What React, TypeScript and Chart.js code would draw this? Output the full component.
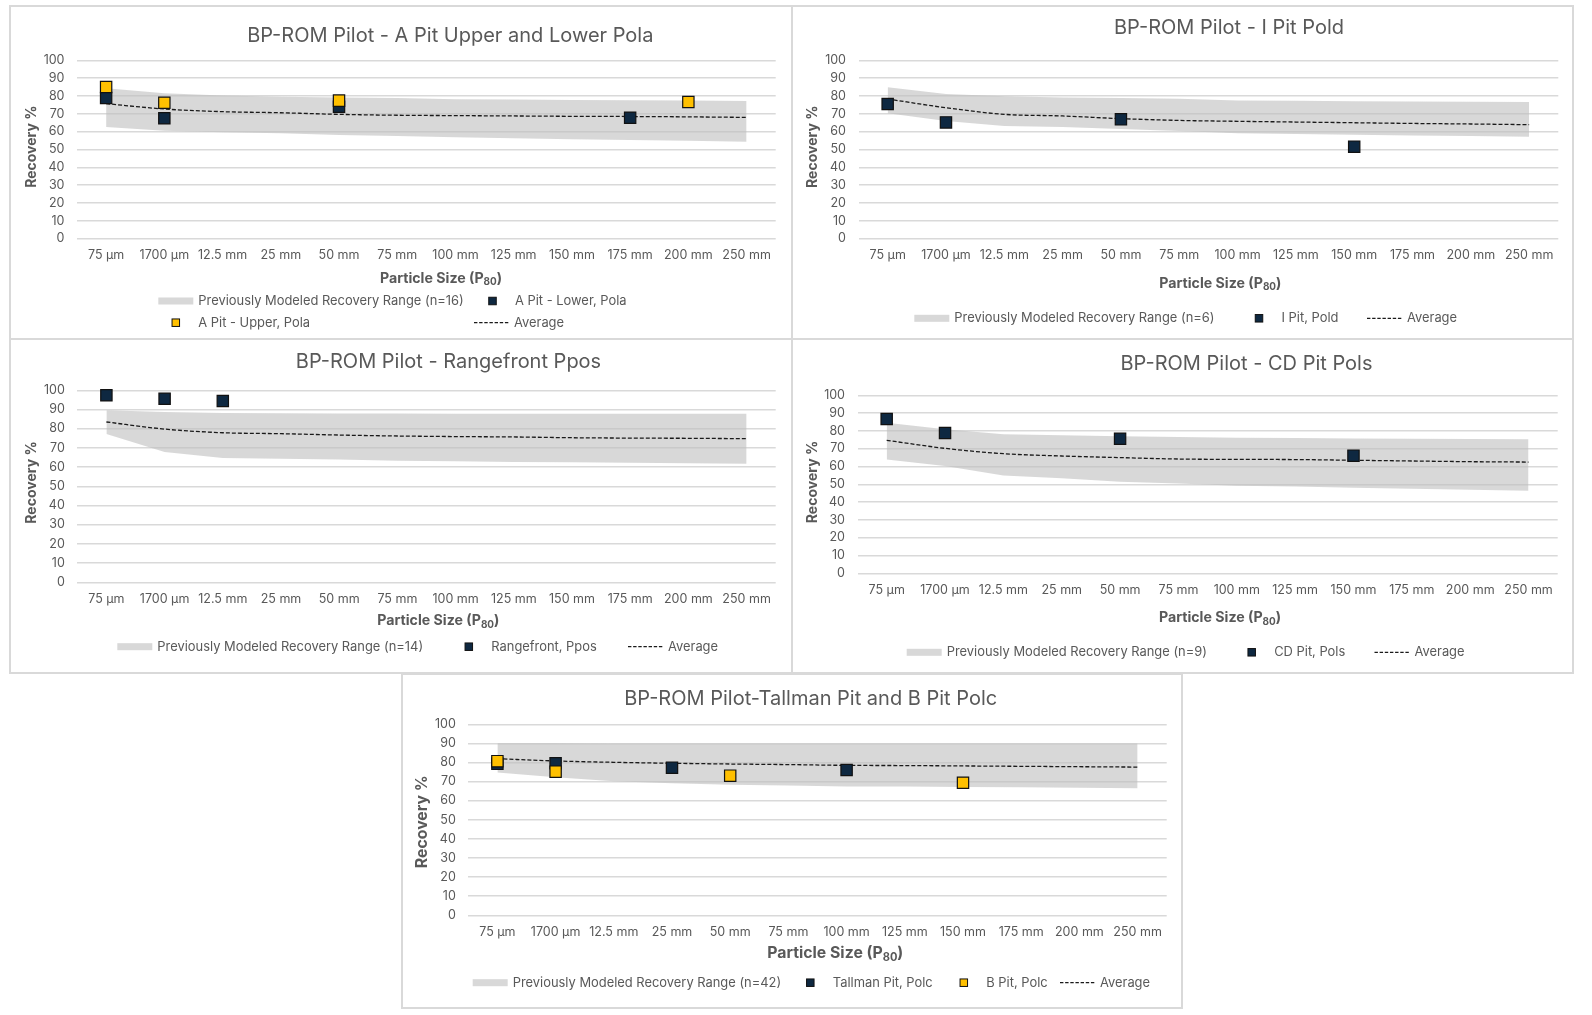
import React, { useEffect, useRef } from 'react';
import { Chart, registerables } from 'chart.js';

Chart.register(...registerables);

const FONT = 'Inter, "Noto Sans", sans-serif';
const TEXT = '#595959';
const NAVY = '#0E2841';
const GOLD = '#FFC000';
const BAND = 'rgba(190,190,190,0.6)';
const EDGE = '#111111';

const categories = ['75 µm', '1700 µm', '12.5 mm', '25 mm', '50 mm', '75 mm', '100 mm', '125 mm', '150 mm', '175 mm', '200 mm', '250 mm'];

// Chart 1 - A Pit Upper and Lower Pola
const rangeLow1 = [62.6, 60.5, 59.6, 59.1, 58.1, 57.6, 56.8, 56.3, 55.7, 55.3, 54.9, 54.4];
const rangeHigh1 = [84.3, 81.5, 80.2, 79.6, 79.2, 78.9, 78.1, 78.0, 77.8, 77.6, 77.4, 77.2];
const average1 = [75.7, 72.7, 71.2, 70.6, 69.7, 69.2, 69.0, 68.8, 68.6, 68.5, 68.3, 68.0];
const aPitLower1 = [78.9, 67.5, null, null, 74.0, null, null, null, null, 67.8, null, null];
const aPitUpper1 = [85.0, 76.2, null, null, 77.4, null, null, null, null, null, 76.6, null];

// Chart 2 - I Pit Pold
const rangeLow2 = [70.3, 66.0, 63.2, 62.6, 61.5, 60.4, 59.1, 58.7, 58.3, 57.9, 57.5, 57.2];
const rangeHigh2 = [84.9, 81.1, 79.8, 79.2, 78.9, 78.5, 77.5, 77.3, 77.1, 76.9, 76.8, 76.6];
const average2 = [78.3, 73.4, 69.7, 68.8, 67.3, 66.3, 65.8, 65.4, 65.0, 64.6, 64.3, 63.9];
const iPit2 = [75.5, 65.2, null, null, 66.9, null, null, null, 51.6, null, null, null];

// Chart 3 - Rangefront Ppos
const rangeLow3 = [77.2, 67.9, 64.7, 64.4, 63.9, 63.3, 63.0, 62.7, 62.5, 62.3, 62.0, 61.8];
const rangeHigh3 = [89.6, 88.7, 88.2, 88.0, 87.9, 87.9, 87.8, 87.8, 87.8, 87.8, 87.8, 87.8];
const average3 = [83.5, 79.8, 77.9, 77.4, 76.7, 76.2, 75.9, 75.7, 75.3, 75.1, 75.0, 74.8];
const rangefront3 = [97.4, 95.6, 94.4, null, null, null, null, null, null, null, null, null];

// Chart 4 - CD Pit Pols
const rangeLow4 = [64.0, 60.3, 55.0, 53.4, 51.5, 50.4, 49.2, 48.7, 48.1, 47.5, 47.0, 46.4];
const rangeHigh4 = [84.6, 80.9, 78.1, 77.5, 77.0, 76.6, 76.2, 76.0, 75.8, 75.6, 75.4, 75.3];
const average4 = [74.7, 70.2, 67.2, 65.9, 65.0, 64.2, 64.0, 63.9, 63.5, 63.1, 62.7, 62.5];
const cdPit4 = [86.7, 78.8, null, null, 75.6, null, null, null, 66.1, null, null, null];

// Chart 5 - Tallman Pit and B Pit Polc
const rangeLow5 = [74.7, 72.3, 70.2, 69.1, 68.4, 68.0, 67.5, 67.4, 67.2, 67.0, 66.8, 66.5];
const rangeHigh5 = [90.1, 90.1, 90.0, 90.0, 90.0, 90.0, 90.0, 90.0, 89.9, 89.9, 89.9, 89.9];
const average5 = [82.0, 80.8, 80.1, 79.6, 79.2, 78.9, 78.5, 78.4, 78.2, 78.0, 77.8, 77.6];
const tallman5 = [79.3, 79.6, null, 77.3, null, null, 76.1, null, null, null, null, null];
const bPit5 = [80.7, 75.2, null, null, 73.1, null, null, null, 69.4, null, null, null];

const bandLow = (data: (number | null)[]) => ({
  label: 'low', data, borderColor: 'transparent', backgroundColor: 'transparent', borderWidth: 0,
  pointRadius: 0, fill: false, order: 10, kind: 'none',
});
const bandHigh = (label: string, data: (number | null)[]) => ({
  label, data, borderColor: 'transparent', borderWidth: 0, pointRadius: 0,
  backgroundColor: BAND, fill: '-1', order: 9, kind: 'band',
});
const avgLine = (data: (number | null)[]) => ({
  label: 'Average', data, borderColor: '#1a1a1a', borderWidth: 1.3, borderDash: [4, 2],
  pointRadius: 0, fill: false, cubicInterpolationMode: 'monotone', order: 5, kind: 'dash',
});
const markers = (label: string, data: (number | null)[], color: string, order: number) => ({
  label, data, showLine: false, pointStyle: 'rect', pointRadius: 8, pointHoverRadius: 8,
  pointBackgroundColor: color, pointBorderColor: EDGE, pointBorderWidth: 1.2,
  backgroundColor: color, borderColor: EDGE, order, clip: false, kind: 'marker',
});

type LegendItem = { ds: number; x: number; y: number };
type PanelSpec = {
  box: { x: number; y: number; w: number; h: number };
  area: { l: number; r: number; t: number; b: number };
  title: string; titleX: number; titleY: number;
  yTitleX: number; yTitleY: number; yTitleSize: number;
  xTitleX: number; xTitleY: number; xTitleSize: number;
  datasets: any[];
  legend: LegendItem[];
};

const panels: PanelSpec[] = [
  {
    box: { x: 9, y: 5, w: 784, h: 335 },
    area: { l: 77, r: 775.7, t: 60.3, b: 238.7 },
    title: 'BP-ROM Pilot - A Pit Upper and Lower Pola', titleX: 450.3, titleY: 36,
    yTitleX: 31.7, yTitleY: 146.7, yTitleSize: 14,
    xTitleX: 441, xTitleY: 278.3, xTitleSize: 14.2,
    datasets: [
      bandLow(rangeLow1),
      bandHigh('Previously Modeled Recovery Range (n=16)', rangeHigh1),
      avgLine(average1),
      markers('A Pit - Lower, Pola', aPitLower1, NAVY, 2),
      markers('A Pit - Upper, Pola', aPitUpper1, GOLD, 1),
    ],
    legend: [
      { ds: 1, x: 158.3, y: 301 }, { ds: 3, x: 475, y: 301 },
      { ds: 4, x: 158.3, y: 322.7 }, { ds: 2, x: 474, y: 322.7 },
    ],
  },
  {
    box: { x: 791, y: 5, w: 783, h: 335 },
    area: { l: 858.5, r: 1558.3, t: 60.3, b: 238.7 },
    title: 'BP-ROM Pilot - I Pit Pold', titleX: 1229, titleY: 28.3,
    yTitleX: 812.3, yTitleY: 146.8, yTitleSize: 14,
    xTitleX: 1220.3, xTitleY: 283.3, xTitleSize: 14.2,
    datasets: [
      bandLow(rangeLow2),
      bandHigh('Previously Modeled Recovery Range (n=6)', rangeHigh2),
      avgLine(average2),
      markers('I Pit, Pold', iPit2, NAVY, 2),
    ],
    legend: [
      { ds: 1, x: 914.3, y: 318.3 }, { ds: 3, x: 1241.5, y: 318.3 }, { ds: 2, x: 1367, y: 318.3 },
    ],
  },
  {
    box: { x: 9, y: 338, w: 784, h: 336 },
    area: { l: 77.3, r: 775.7, t: 390.3, b: 582.3 },
    title: 'BP-ROM Pilot - Rangefront Ppos', titleX: 448.5, titleY: 362.3,
    yTitleX: 31.7, yTitleY: 482.5, yTitleSize: 14,
    xTitleX: 438.3, xTitleY: 620.7, xTitleSize: 14.2,
    datasets: [
      bandLow(rangeLow3),
      bandHigh('Previously Modeled Recovery Range (n=14)', rangeHigh3),
      avgLine(average3),
      markers('Rangefront, Ppos', rangefront3, NAVY, 2),
    ],
    legend: [
      { ds: 1, x: 117.3, y: 646.7 }, { ds: 3, x: 451.3, y: 646.7 }, { ds: 2, x: 628, y: 646.7 },
    ],
  },
  {
    box: { x: 791, y: 338, w: 783, h: 336 },
    area: { l: 857.5, r: 1557.7, t: 395.3, b: 573.3 },
    title: 'BP-ROM Pilot - CD Pit Pols', titleX: 1246.5, titleY: 364,
    yTitleX: 812.3, yTitleY: 482, yTitleSize: 14,
    xTitleX: 1220, xTitleY: 617.7, xTitleSize: 14.2,
    datasets: [
      bandLow(rangeLow4),
      bandHigh('Previously Modeled Recovery Range (n=9)', rangeHigh4),
      avgLine(average4),
      markers('CD Pit, Pols', cdPit4, NAVY, 2),
    ],
    legend: [
      { ds: 1, x: 906.7, y: 652.3 }, { ds: 3, x: 1234.2, y: 652.3 }, { ds: 2, x: 1374.5, y: 652.3 },
    ],
  },
  {
    box: { x: 401, y: 673, w: 782, h: 336 },
    area: { l: 468.3, r: 1166.7, t: 724.3, b: 915.3 },
    title: 'BP-ROM Pilot-Tallman Pit and B Pit Polc', titleX: 810.7, titleY: 699.3,
    yTitleX: 422.3, yTitleY: 821.7, yTitleSize: 15.8,
    xTitleX: 835.3, xTitleY: 953.3, xTitleSize: 15.8,
    datasets: [
      bandLow(rangeLow5),
      bandHigh('Previously Modeled Recovery Range (n=42)', rangeHigh5),
      avgLine(average5),
      markers('Tallman Pit, Polc', tallman5, NAVY, 2),
      markers('B Pit, Polc', bPit5, GOLD, 1),
    ],
    legend: [
      { ds: 1, x: 472.7, y: 982.7 }, { ds: 3, x: 792.8, y: 982.7 },
      { ds: 4, x: 946.3, y: 982.7 }, { ds: 2, x: 1060, y: 982.7 },
    ],
  },
];

function drawTexts(chart: any, spec: PanelSpec) {
  const ctx: CanvasRenderingContext2D = chart.ctx;
  const ox = spec.box.x;
  const oy = spec.box.y;
  ctx.save();
  ctx.fillStyle = TEXT;
  ctx.textBaseline = 'middle';

  // chart title
  ctx.font = `20px ${FONT}`;
  ctx.textAlign = 'center';
  ctx.fillText(spec.title, spec.titleX - ox, spec.titleY - oy);

  // y axis title
  ctx.save();
  ctx.translate(spec.yTitleX - ox, spec.yTitleY - oy);
  ctx.rotate(-Math.PI / 2);
  ctx.font = `bold ${spec.yTitleSize}px ${FONT}`;
  ctx.textAlign = 'center';
  ctx.fillText('Recovery %', 0, 0);
  ctx.restore();

  // x axis title with subscript
  const s = spec.xTitleSize;
  const main = `bold ${s}px ${FONT}`;
  const sub = `bold ${s * 0.7}px ${FONT}`;
  const parts: [string, string, number][] = [
    ['Particle Size (P', main, 0],
    ['80', sub, s * 0.28],
    [')', main, 0],
  ];
  let total = 0;
  parts.forEach(([t, f]) => { ctx.font = f; total += ctx.measureText(t).width; });
  let px = spec.xTitleX - ox - total / 2;
  ctx.textAlign = 'left';
  parts.forEach(([t, f, dy]) => {
    ctx.font = f;
    ctx.fillText(t, px, spec.xTitleY - oy + dy);
    px += ctx.measureText(t).width;
  });

  // legend
  ctx.font = `12.9px ${FONT}`;
  spec.legend.forEach((item) => {
    const ds = spec.datasets[item.ds];
    const x = item.x - ox;
    const y = item.y - oy;
    if (ds.kind === 'band') {
      ctx.fillStyle = BAND;
      ctx.fillRect(x, y - 3.5, 35, 7);
    } else if (ds.kind === 'marker') {
      const sz = 7.5;
      ctx.fillStyle = ds.pointBackgroundColor;
      ctx.fillRect(x + 17.5 - sz / 2, y - sz / 2, sz, sz);
      ctx.strokeStyle = EDGE;
      ctx.lineWidth = 1;
      ctx.strokeRect(x + 17.5 - sz / 2, y - sz / 2, sz, sz);
    } else if (ds.kind === 'dash') {
      ctx.save();
      ctx.strokeStyle = '#1a1a1a';
      ctx.lineWidth = 1.2;
      ctx.setLineDash([3.4, 1.75]);
      ctx.beginPath();
      ctx.moveTo(x, y);
      ctx.lineTo(x + 36, y);
      ctx.stroke();
      ctx.restore();
    }
    ctx.fillStyle = TEXT;
    ctx.textAlign = 'left';
    ctx.fillText(ds.label, x + 40, y);
  });
  ctx.restore();
}

function Panel({ spec }: { spec: PanelSpec }) {
  const ref = useRef<HTMLCanvasElement>(null);
  const { box, area } = spec;
  useEffect(() => {
    const yW = 40;
    const xH = 30;
    const chart = new Chart(ref.current as HTMLCanvasElement, {
      type: 'line',
      data: { labels: categories, datasets: spec.datasets as any },
      options: {
        animation: false,
        responsive: false,
        maintainAspectRatio: false,
        events: [],
        layout: {
          padding: {
            left: area.l - box.x - yW,
            right: box.x + box.w - area.r,
            top: area.t - box.y,
            bottom: box.y + box.h - area.b - xH,
          },
        },
        plugins: {
          legend: { display: false },
          title: { display: false },
          tooltip: { enabled: false },
        },
        scales: {
          x: {
            type: 'category',
            offset: true,
            grid: { display: false, drawTicks: false },
            border: { display: false },
            ticks: {
              color: TEXT,
              font: { family: FONT, size: 12.5 },
              padding: 9,
              autoSkip: false,
              maxRotation: 0,
              minRotation: 0,
            },
            afterFit: (sc: any) => { sc.height = xH; sc.paddingLeft = 0; sc.paddingRight = 0; },
          },
          y: {
            min: 0,
            max: 100,
            ticks: {
              stepSize: 10,
              autoSkip: false,
              color: TEXT,
              font: { family: FONT, size: 12.5 },
              padding: 12.5,
            },
            grid: { color: '#d9d9d9', lineWidth: 1.5, drawTicks: false },
            border: { display: false },
            afterFit: (sc: any) => { sc.width = yW; sc.paddingTop = 0; sc.paddingBottom = 0; },
          },
        },
      } as any,
      plugins: [{ id: 'panelText', afterDraw: (c: any) => drawTexts(c, spec) }],
    });
    return () => chart.destroy();
  }, [spec]);
  return (
    <>
      <div
        style={{
          position: 'absolute', left: box.x, top: box.y, width: box.w, height: box.h,
          boxSizing: 'border-box', border: '2px solid #d9d9d9', background: '#fff',
        }}
      />
      <canvas
        ref={ref}
        width={box.w}
        height={box.h}
        style={{ position: 'absolute', left: box.x, top: box.y, width: box.w, height: box.h }}
      />
    </>
  );
}

export default function App() {
  return (
    <div
      style={{
        position: 'absolute', left: 0, top: 0, width: 1592, height: 1015,
        background: '#ffffff', overflow: 'hidden',
      }}
    >
      {panels.map((p, i) => <Panel key={i} spec={p} />)}
    </div>
  );
}
